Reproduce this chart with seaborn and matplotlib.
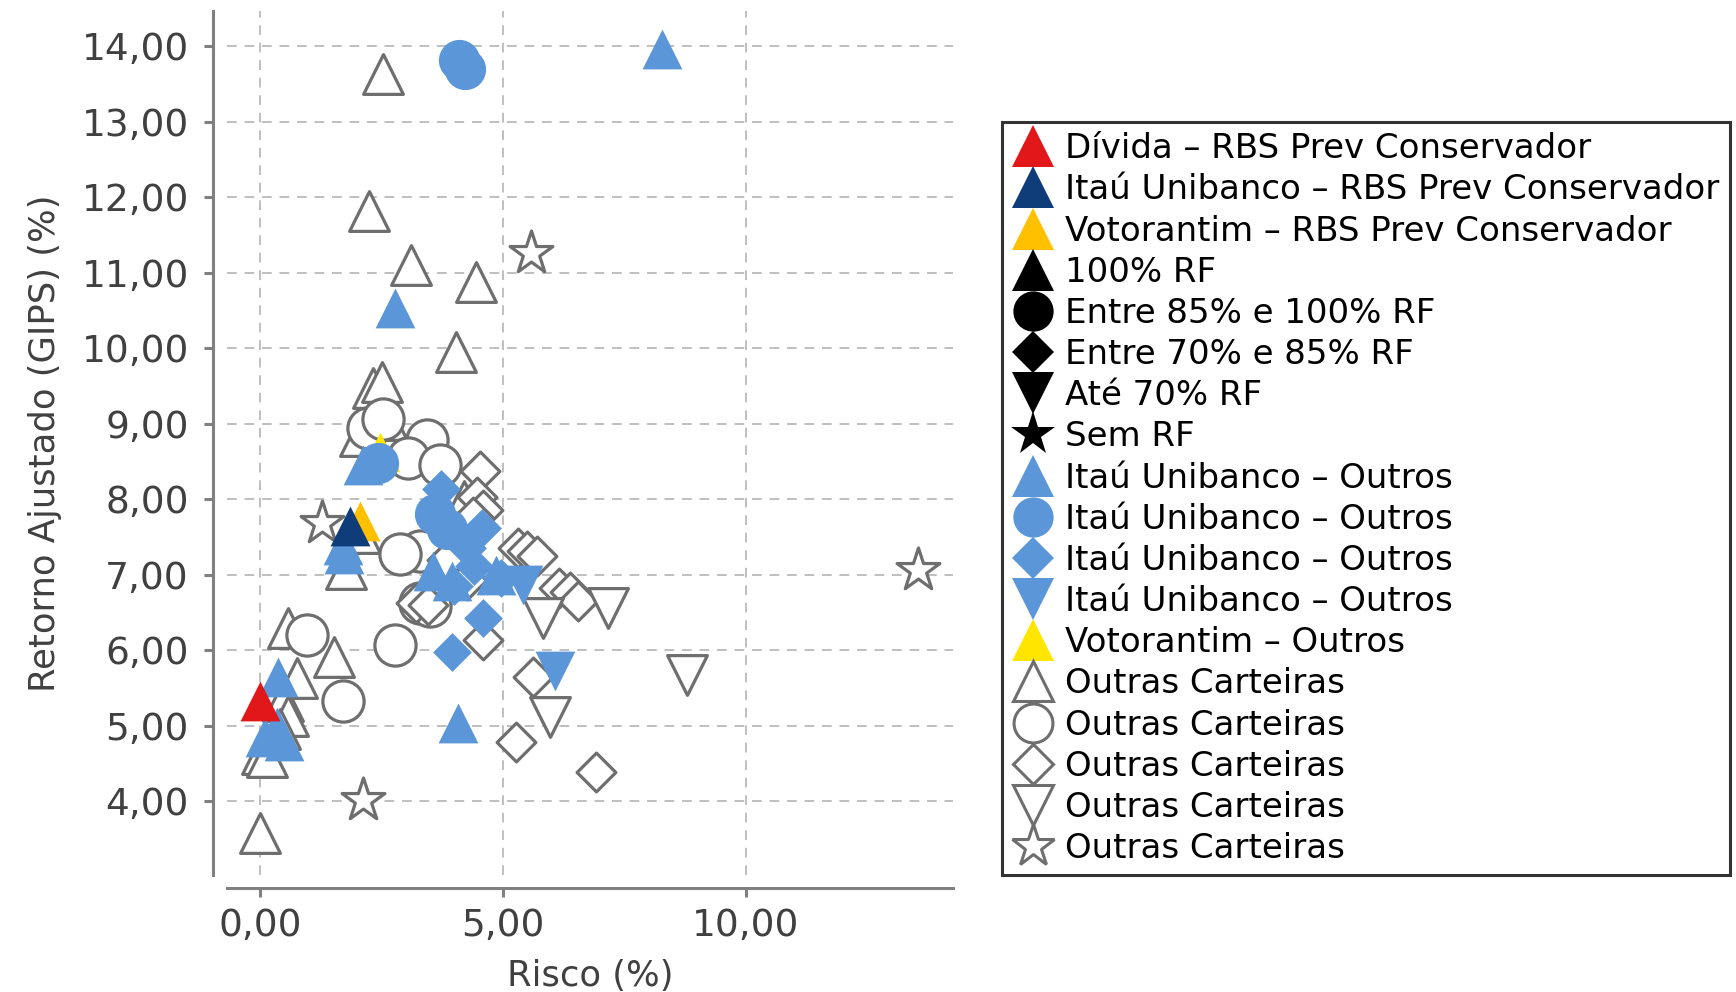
import matplotlib
matplotlib.use('Agg')
import matplotlib.pyplot as plt
import seaborn as sns
from matplotlib.lines import Line2D
from matplotlib.ticker import FuncFormatter, FixedLocator

# -----------------------------
# Dados (Risco %, Retorno Ajustado %)
# -----------------------------
outras_tri_x = [2.53, 2.25, 3.10, 4.45, 4.03, 2.33, 2.51, 2.61, 2.20, 2.06, 1.77, 2.05, 4.20,
                0.58, 1.52, 0.76, 0.47, 0.58, 0.40, 0.04, 0.14, 0.00]
outras_tri_y = [13.63, 11.82, 11.10, 10.88, 9.95, 9.47, 9.55, 9.05, 8.92, 8.84, 7.07, 7.55, 7.98,
                6.29, 5.91, 5.63, 5.33, 5.13, 4.95, 4.62, 4.58, 3.58]

outras_circ_x = [2.22, 2.53, 3.44, 3.05, 3.70, 3.30, 2.88, 3.30, 3.50, 2.78, 0.97, 1.70]
outras_circ_y = [8.94, 9.07, 8.78, 8.55, 8.45, 7.32, 7.28, 6.62, 6.58, 6.07, 6.20, 5.33]

outras_diam_x = [4.53, 4.46, 4.59, 4.38, 3.85, 4.26, 5.30, 5.50, 5.70, 6.15, 6.38, 6.55,
                 4.59, 5.62, 5.27, 6.91, 3.20, 3.45]
outras_diam_y = [8.37, 8.03, 7.86, 7.77, 7.19, 6.93, 7.35, 7.32, 7.25, 6.82, 6.77, 6.65,
                 6.14, 5.64, 4.78, 4.39, 6.62, 6.60]

outras_tridown_x = [5.83, 7.16, 5.97, 8.78]
outras_tridown_y = [6.42, 6.56, 5.11, 5.67]

outras_star_x = [5.58, 1.27, 2.12, 13.54]
outras_star_y = [11.26, 7.68, 4.01, 7.06]

itau_tri_x = [8.27, 2.78, 2.12, 1.70, 1.72, 0.37, 0.10, 0.35, 0.50, 4.07, 3.55, 3.95, 4.85]
itau_tri_y = [13.96, 10.54, 8.45, 7.40, 7.27, 5.65, 4.85, 4.98, 4.80, 5.03, 7.05, 6.92, 7.00]

itau_circ_x = [4.09, 4.22, 2.43, 3.60, 3.85]
itau_circ_y = [13.82, 13.70, 8.48, 7.80, 7.60]

itau_diam_x = [3.72, 4.56, 4.25, 4.40, 4.95, 4.00, 4.59, 3.95]
itau_diam_y = [8.14, 7.62, 7.35, 7.12, 6.95, 6.85, 6.43, 5.97]

itau_tridown_x = [5.40, 6.07]
itau_tridown_y = [6.86, 5.72]

voto_outros_x = [2.47]
voto_outros_y = [8.62]

voto_rbs_x = [2.06]
voto_rbs_y = [7.71]

itau_rbs_x = [1.85]
itau_rbs_y = [7.64]

divida_rbs_x = [0.00]
divida_rbs_y = [5.33]

x_ticks = [0, 5, 10]
y_ticks = [4, 5, 6, 7, 8, 9, 10, 11, 12, 13, 14]

# cores
C_RED = '#E2171A'
C_NAVY = '#0E3D7A'
C_GOLD = '#FFC000'
C_YEL = '#FFE500'
C_BLUE = '#5A96D8'
C_GRAY = '#6E6E6E'
C_TXT = '#404040'

sns.set_theme(style='white')
plt.rcParams['font.family'] = ['DejaVu Sans']

fig = plt.figure(figsize=(17.36, 9.92), dpi=100)
ax = fig.add_axes([0.1308, 0.1179, 0.4182, 0.871])

S_TRI, S_CIRC, S_DIAM, S_STAR = 820, 880, 390, 1050
LW = 2.3

# Outras Carteiras (contorno)
for xs, ys, mk, s in [(outras_tri_x, outras_tri_y, '^', S_TRI),
                      (outras_circ_x, outras_circ_y, 'o', S_CIRC),
                      (outras_diam_x, outras_diam_y, 'D', S_DIAM),
                      (outras_tridown_x, outras_tridown_y, 'v', S_TRI),
                      (outras_star_x, outras_star_y, '*', S_STAR)]:
    sns.scatterplot(x=xs, y=ys, marker=mk, s=s, color='white', edgecolor=C_GRAY,
                    linewidth=LW, ax=ax, legend=False, zorder=3)

# Votorantim - Outros
sns.scatterplot(x=voto_outros_x, y=voto_outros_y, marker='^', s=S_TRI, color=C_YEL,
                linewidth=0, ax=ax, legend=False, zorder=4)

# Itaú Unibanco - Outros
for xs, ys, mk, s in [(itau_tri_x, itau_tri_y, '^', S_TRI),
                      (itau_circ_x, itau_circ_y, 'o', S_CIRC),
                      (itau_diam_x, itau_diam_y, 'D', S_DIAM),
                      (itau_tridown_x, itau_tridown_y, 'v', S_TRI)]:
    sns.scatterplot(x=xs, y=ys, marker=mk, s=s, color=C_BLUE, linewidth=0,
                    ax=ax, legend=False, zorder=5)

# RBS Prev Conservador
sns.scatterplot(x=voto_rbs_x, y=voto_rbs_y, marker='^', s=S_TRI, color=C_GOLD,
                linewidth=0, ax=ax, legend=False, zorder=6)
sns.scatterplot(x=itau_rbs_x, y=itau_rbs_y, marker='^', s=S_TRI, color=C_NAVY,
                linewidth=0, ax=ax, legend=False, zorder=7)
sns.scatterplot(x=divida_rbs_x, y=divida_rbs_y, marker='^', s=S_TRI, color=C_RED,
                linewidth=0, ax=ax, legend=False, zorder=8)

# Eixos
ax.set_xlim(-0.68, 14.26)
ax.set_ylim(3.02, 14.47)
ax.xaxis.set_major_locator(FixedLocator(x_ticks))
ax.yaxis.set_major_locator(FixedLocator(y_ticks))
fmt = FuncFormatter(lambda v, p: f'{v:.2f}'.replace('.', ','))
ax.xaxis.set_major_formatter(fmt)
ax.yaxis.set_major_formatter(fmt)

ax.grid(True, color='#BFBFBF', linestyle=(0, (5, 4)), linewidth=1.4)
ax.set_axisbelow(True)
sns.despine(ax=ax, offset=dict(left=10, bottom=9))
for sp in ['left', 'bottom']:
    ax.spines[sp].set_color('#808080')
    ax.spines[sp].set_linewidth(2.2)

ax.tick_params(axis='both', which='major', labelsize=27, labelcolor=C_TXT,
               color='#808080', length=6.5, width=2.2, left=True, bottom=True)
ax.tick_params(axis='y', pad=11)
ax.tick_params(axis='x', pad=8)

ax.set_xlabel('Risco (%)', fontsize=25.5, color=C_TXT, labelpad=11)
ax.set_ylabel('Retorno Ajustado (GIPS) (%)', fontsize=25.5, color=C_TXT, labelpad=14)

# Legenda
def h(mk, fc, ec=None, ms=30, mew=0):
    return Line2D([], [], marker=mk, linestyle='None', markersize=ms,
                  markerfacecolor=fc, markeredgecolor=ec if ec else fc,
                  markeredgewidth=mew)

handles = [
    h('^', C_RED), h('^', C_NAVY), h('^', C_GOLD), h('^', 'black'),
    h('o', 'black', ms=29), h('D', 'black', ms=21.5), h('v', 'black'), h('*', 'black', ms=33),
    h('^', C_BLUE), h('o', C_BLUE, ms=29), h('D', C_BLUE, ms=21.5), h('v', C_BLUE),
    h('^', C_YEL),
    h('^', 'white', C_GRAY, ms=29, mew=2.2), h('o', 'white', C_GRAY, ms=28, mew=2.2),
    h('D', 'white', C_GRAY, ms=20.5, mew=2.2), h('v', 'white', C_GRAY, ms=29, mew=2.2),
    h('*', 'white', C_GRAY, ms=32, mew=2.2),
]
labels = [
    'Dívida – RBS Prev Conservador',
    'Itaú Unibanco – RBS Prev Conservador',
    'Votorantim – RBS Prev Conservador',
    '100% RF',
    'Entre 85% e 100% RF',
    'Entre 70% e 85% RF',
    'Até 70% RF',
    'Sem RF',
    'Itaú Unibanco – Outros',
    'Itaú Unibanco – Outros',
    'Itaú Unibanco – Outros',
    'Itaú Unibanco – Outros',
    'Votorantim – Outros',
    'Outras Carteiras',
    'Outras Carteiras',
    'Outras Carteiras',
    'Outras Carteiras',
    'Outras Carteiras',
]
leg = fig.legend(handles, labels, loc='upper left', bbox_to_anchor=(0.5772, 0.877),
                 bbox_transform=fig.transFigure, fontsize=24.5, frameon=True,
                 fancybox=False, edgecolor='black', borderpad=0.3, labelspacing=0.24,
                 handlelength=1.25, handletextpad=0.3, borderaxespad=0)
leg.get_frame().set_linewidth(2.2)
for t in leg.get_texts():
    t.set_color('black')

fig.savefig('out.png', dpi=100)
